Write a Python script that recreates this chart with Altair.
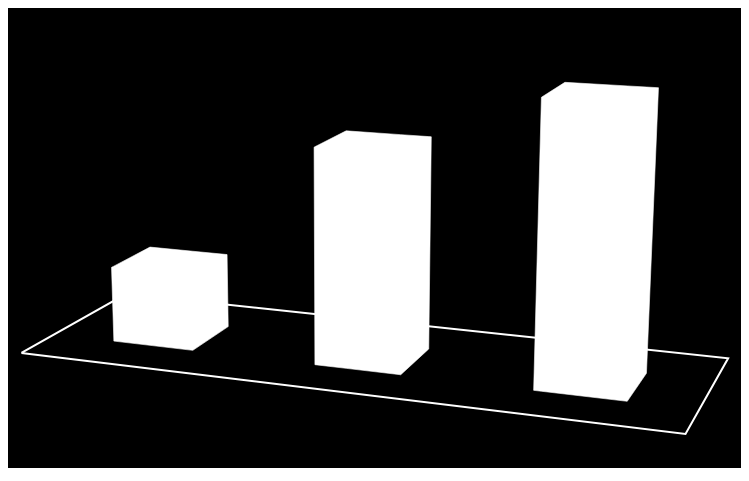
import numpy as np
import pandas as pd
import altair as alt

# ---- data ----
CATEGORIES = ["A", "B", "C"]
VALUES = [28, 78, 100]

# ---- 3D view (style): world -> screen camera matrix, bar geometry ----
CAMERA = np.array([
    [192.982, 118.945, -12.5777, 21.4],
    [9.07348, -26.1288, -278.428, 352.889],
    [-0.0414011, 0.112041, -0.0367232, 1.0],
])
HALF_WIDTH = 0.20044
Y_FRONT, Y_BACK = 0.2949, 0.67518
X_FIRST, X_STEP = 0.50973, 0.99564
Z_PER_UNIT = 1.0 / 100.0
FLOOR_X, FLOOR_Y = 3.0, 1.0

W_PX, H_PX = 733, 460
xs = alt.Scale(domain=[8, 8 + W_PX], nice=False, zero=False)
ys = alt.Scale(domain=[8 + H_PX, 8], nice=False, zero=False)


def project(X, Y, Z):
    h = CAMERA @ np.array([X, Y, Z, 1.0])
    return h[0] / h[2], h[1] / h[2]


def hull(pts):
    pts = sorted(map(tuple, pts))

    def cross(o, a, b):
        return (a[0] - o[0]) * (b[1] - o[1]) - (a[1] - o[1]) * (b[0] - o[0])
    lower, upper = [], []
    for pt in pts:
        while len(lower) >= 2 and cross(lower[-2], lower[-1], pt) <= 0:
            lower.pop()
        lower.append(pt)
    for pt in reversed(pts):
        while len(upper) >= 2 and cross(upper[-2], upper[-1], pt) <= 0:
            upper.pop()
        upper.append(pt)
    return lower[:-1] + upper[:-1]


def span(poly, x):
    yv = []
    n = len(poly)
    for k in range(n):
        (x1, y1), (x2, y2) = poly[k], poly[(k + 1) % n]
        if min(x1, x2) - 1e-9 <= x <= max(x1, x2) + 1e-9:
            if abs(x2 - x1) < 1e-9:
                yv += [y1, y2]
            else:
                yv.append(y1 + (y2 - y1) * (x - x1) / (x2 - x1))
    return min(yv), max(yv)


rows = []
for i, (cat, v) in enumerate(zip(CATEGORIES, VALUES)):
    cx = X_FIRST + X_STEP * i
    h = v * Z_PER_UNIT
    pts = [project(X, Y, Z)
           for X in (cx - HALF_WIDTH, cx + HALF_WIDTH)
           for Y in (Y_FRONT, Y_BACK)
           for Z in (0.0, h)]
    poly = hull(pts)
    for x in sorted(set(pt[0] for pt in poly)):
        lo, hi = span(poly, x)
        rows.append(dict(bar=cat, value=v, sx=x, top=lo, bot=hi))
df_bars = pd.DataFrame(rows)

floor_rows = []
for o, (X, Y) in enumerate([(0, 0), (FLOOR_X, 0), (FLOOR_X, FLOOR_Y), (0, FLOOR_Y), (0, 0)]):
    sx, sy = project(X, Y, 0.0)
    floor_rows.append(dict(o=o, sx=sx, sy=sy))
df_floor = pd.DataFrame(floor_rows)

floor = alt.Chart(df_floor).mark_line(color="white", strokeWidth=2, strokeJoin="miter").encode(
    x=alt.X("sx:Q", scale=xs, axis=None),
    y=alt.Y("sy:Q", scale=ys, axis=None),
    order="o:Q",
)
bars = alt.Chart(df_bars).mark_area(color="white", stroke="white", strokeWidth=0.6, opacity=1).encode(
    x=alt.X("sx:Q", scale=xs, axis=None),
    y=alt.Y("top:Q", scale=ys, axis=None),
    y2="bot:Q",
    detail="bar:N",
)

chart = alt.layer(floor, bars).properties(
    width=W_PX, height=H_PX, padding=0, background="black"
).configure_view(stroke=None)
chart.save("out.html", embed_options={"renderer": "svg", "actions": False})
